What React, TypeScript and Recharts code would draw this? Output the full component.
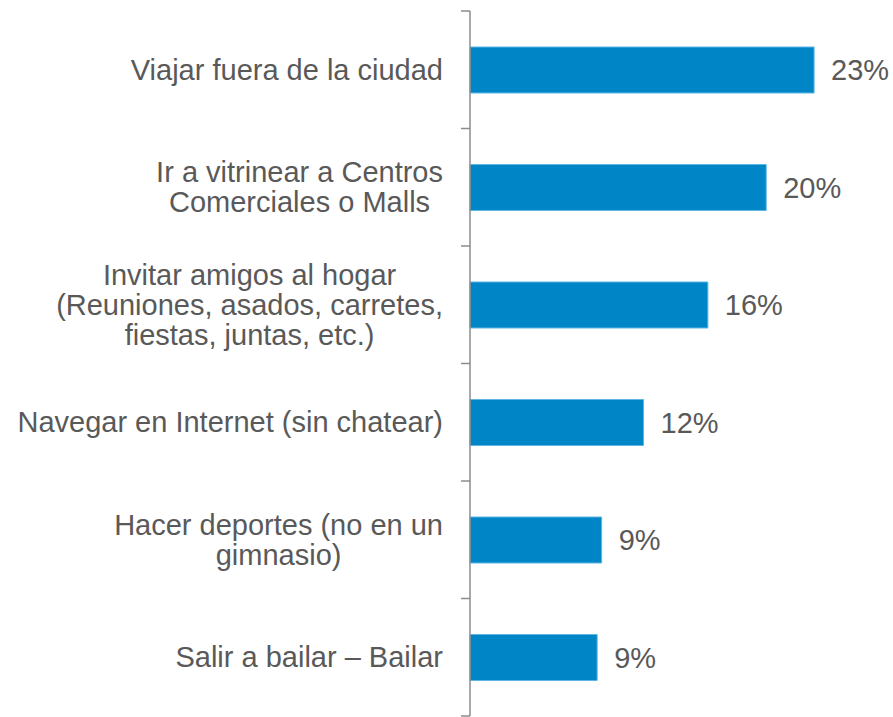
import React from "react";
import { BarChart, Bar, XAxis, YAxis, LabelList } from "recharts";

const categories = [
  "Viajar fuera de la ciudad",
  "Ir a vitrinear a Centros\nComerciales o Malls",
  "Invitar amigos al hogar\n(Reuniones, asados, carretes,\nfiestas, juntas, etc.)",
  "Navegar en Internet (sin chatear)",
  "Hacer deportes (no en un\ngimnasio)",
  "Salir a bailar – Bailar",
];
const values = [23.0, 19.8, 15.9, 11.6, 8.8, 8.5];
const valueLabels = ["23%", "20%", "16%", "12%", "9%", "9%"];

const data = categories.map((c, i) => ({ name: c, value: values[i], label: valueLabels[i] }));

const W = 893;
const H = 717;
const MARGIN = { top: 11, right: 49, bottom: 1, left: 0 };
const AXIS_W = 470;
const TICK_MARGIN = 27;
const TICK_LEN = 9;
const HALF_BAND = (H - MARGIN.top - MARGIN.bottom) / categories.length / 2;
const LINE_H = 30;
const FONT_SIZE = 29;
const TEXT_COLOR = "#595959";
const AXIS_COLOR = "#8c8c8c";
const FONT = "'Liberation Sans', Arial, sans-serif";

let ctx: CanvasRenderingContext2D | null = null;
function measure(s: string): number {
  if (!ctx) {
    const c = document.createElement("canvas");
    ctx = c.getContext("2d");
  }
  if (!ctx) return s.length * FONT_SIZE * 0.5;
  ctx.font = `${FONT_SIZE}px 'Liberation Sans', Arial, sans-serif`;
  return ctx.measureText(s).width;
}

const CustomTick = (props: any) => {
  const { x, y, payload, index } = props;
  const lines = String(payload.value).split("\n");
  const axisX = x + TICK_MARGIN;
  const startY = y - ((lines.length - 1) * LINE_H) / 2;
  const maxW = Math.max(...lines.map(measure));
  const cx = x - maxW / 2;
  return (
    <g>
      <line x1={axisX - TICK_LEN} x2={axisX} y1={y - HALF_BAND} y2={y - HALF_BAND} stroke={AXIS_COLOR} strokeWidth={1.5} />
      {index === categories.length - 1 && (
        <line x1={axisX - TICK_LEN} x2={axisX} y1={y + HALF_BAND} y2={y + HALF_BAND} stroke={AXIS_COLOR} strokeWidth={1.5} />
      )}
      <text x={cx} y={startY} textAnchor="middle" dominantBaseline="central" fill={TEXT_COLOR} fontSize={FONT_SIZE} fontFamily={FONT}>
        {lines.map((l, i) => (
          <tspan key={i} x={cx} dy={i === 0 ? 0 : LINE_H}>
            {l}
          </tspan>
        ))}
      </text>
    </g>
  );
};

export default function App() {
  return (
    <div style={{ position: "absolute", left: 0, top: 0, width: W, height: H, background: "#fff" }}>
      <BarChart width={W} height={H} data={data} layout="vertical" margin={MARGIN} barCategoryGap={0}>
        <XAxis type="number" domain={[0, 25]} hide />
        <YAxis
          type="category"
          dataKey="name"
          width={AXIS_W}
          tickLine={false}
          tickSize={0}
          tickMargin={TICK_MARGIN}
          axisLine={{ stroke: AXIS_COLOR, strokeWidth: 1.5 }}
          tick={<CustomTick />}
          interval={0}
        />
        <Bar dataKey="value" fill="#0085C7" stroke="#5DB6E3" strokeWidth={1} barSize={46} isAnimationActive={false}>
          <LabelList dataKey="label" position="right" offset={17} fill={TEXT_COLOR} fontSize={FONT_SIZE} fontFamily={FONT} />
        </Bar>
      </BarChart>
    </div>
  );
}
